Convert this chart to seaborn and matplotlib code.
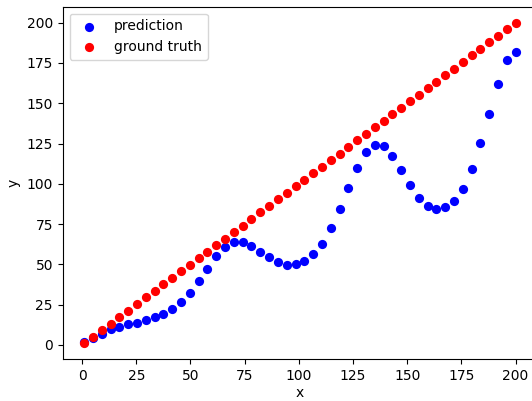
import matplotlib
matplotlib.use("Agg")
import matplotlib.pyplot as plt
import seaborn as sns

# Sample positions along x
x_values = [1.00, 5.06, 9.12, 13.18, 17.24, 21.31, 25.37, 29.43, 33.49, 37.55,
            41.61, 45.67, 49.73, 53.80, 57.86, 61.92, 65.98, 70.04, 74.10, 78.16,
            82.22, 86.29, 90.35, 94.41, 98.47, 102.53, 106.59, 110.65, 114.71, 118.78,
            122.84, 126.90, 130.96, 135.02, 139.08, 143.14, 147.20, 151.27, 155.33, 159.39,
            163.45, 167.51, 171.57, 175.63, 179.69, 183.76, 187.82, 191.88, 195.94, 200.00]

# Model output
prediction = [1.5, 4.2, 6.8, 9.7, 11.4, 12.8, 13.8, 15.3, 17.2, 19.4,
              22.3, 26.5, 32.3, 39.5, 47.4, 54.9, 60.6, 63.9, 63.8, 61.6,
              57.9, 54.6, 51.3, 49.8, 50.3, 52.1, 56.3, 62.7, 72.4, 84.2,
              97.3, 110.1, 120.0, 124.2, 123.3, 117.5, 108.4, 99.1, 91.4, 86.1,
              84.2, 85.5, 89.6, 97.0, 109.1, 125.2, 143.4, 162.0, 176.7, 182.1]

# Reference targets
ground_truth = [1.00, 5.06, 9.12, 13.18, 17.24, 21.31, 25.37, 29.43, 33.49, 37.55,
                41.61, 45.67, 49.73, 53.80, 57.86, 61.92, 65.98, 70.04, 74.10, 78.16,
                82.22, 86.29, 90.35, 94.41, 98.47, 102.53, 106.59, 110.65, 114.71, 118.78,
                122.84, 126.90, 130.96, 135.02, 139.08, 143.14, 147.20, 151.27, 155.33, 159.39,
                163.45, 167.51, 171.57, 175.63, 179.69, 183.76, 187.82, 191.88, 195.94, 200.00]

W, H = 532, 401
fig = plt.figure(figsize=(W / 100, H / 100), dpi=100)
left_px, right_px, top_px, bottom_px = 62.7, 537.1, 6.7, 359.3
ax = fig.add_axes([left_px / W, (H - bottom_px) / H,
                   (right_px - left_px) / W, (bottom_px - top_px) / H])

sns.scatterplot(x=x_values, y=prediction, color="blue", s=44, linewidth=0,
                label="prediction", ax=ax)
sns.scatterplot(x=x_values, y=ground_truth, color="red", s=44, linewidth=0,
                label="ground truth", ax=ax)

ax.set_xlabel("x", labelpad=2.5)
ax.set_ylabel("y")
ax.set_xticks([0, 25, 50, 75, 100, 125, 150, 175, 200])
ax.set_yticks([0, 25, 50, 75, 100, 125, 150, 175, 200])
ax.set_xlim(-8.95, 209.95)
ax.set_ylim(-8.95, 209.95)
ax.legend(loc="upper left")

fig.savefig("out.png", dpi=100)
